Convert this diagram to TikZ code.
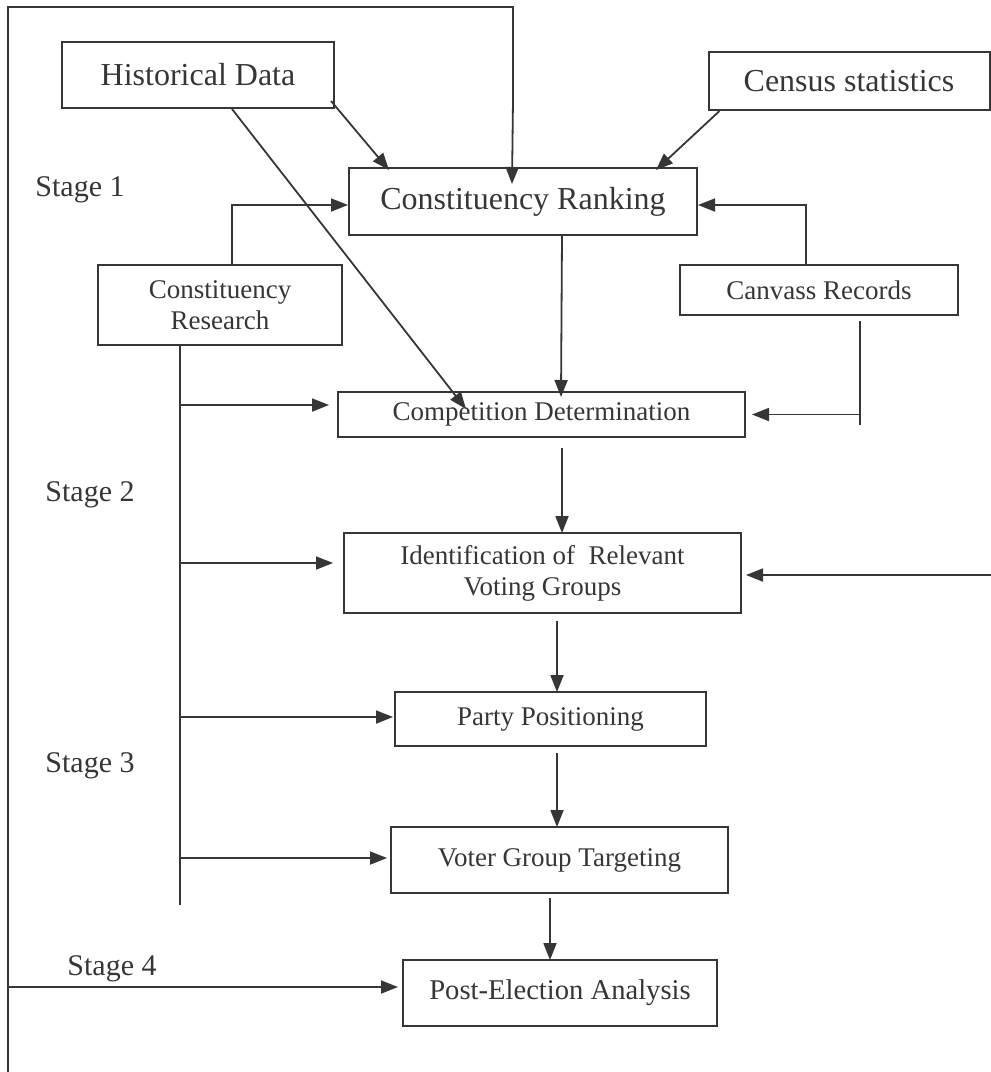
\documentclass[tikz,border=0pt]{standalone}
\usepackage{fontspec}
\setmainfont{Liberation Serif}
\usetikzlibrary{arrows.meta,calc}
\definecolor{ink}{HTML}{363636}
\tikzset{
  box/.style={draw=ink, line width=1pt, inner sep=0pt, align=center, text=ink},
  big/.style={font=\fontsize{16}{19}\selectfont},
  small/.style={font=\fontsize{13.5}{16.5}\selectfont},
  stagelbl/.style={text=ink, inner sep=0pt, font=\fontsize{15}{18}\selectfont},
  conn/.style={draw=ink, line width=0.9pt},
  arr/.style={conn, -{Triangle[length=8.5pt,width=6.5pt]}},
}
\begin{document}
\begin{tikzpicture}[x=0.5pt,y=-0.5pt]
\useasboundingbox (0,0) rectangle (991,1072);
% boxes
\node[box,big,minimum width=136pt,minimum height=33pt] (hist) at (198,75) {Historical Data};
\node[box,big,minimum width=140.5pt,minimum height=29pt] (census) at (849,81) {Census statistics};
\node[box,big,minimum width=174pt,minimum height=33.5pt] (rank) at (523,201.5) {Constituency Ranking};
\node[box,small,minimum width=122pt,minimum height=40pt] (research) at (220,305) {Constituency\\[-1pt]Research};
\node[box,small,minimum width=139pt,minimum height=25pt] (canvass) at (819,290) {Canvass Records};
\node[box,small,minimum width=203.5pt,minimum height=22.5pt] (comp) at (541.5,414.5) {Competition Determination};
\node[box,small,minimum width=198.5pt,minimum height=40pt] (ident) at (542.5,573) {Identification of~ Relevant\\[-1pt]Voting Groups};
\node[box,small,minimum width=155.5pt,minimum height=27pt] (party) at (550.5,719) {Party Positioning};
\node[box,small,minimum width=168.5pt,minimum height=33pt] (target) at (559.5,860) {Voter Group Targeting};
\node[box,small,font=\fontsize{14.3}{17}\selectfont,minimum width=157pt,minimum height=33pt] (post) at (560,993) {Post-Election Analysis};
% stage labels
\node[stagelbl] (s1) at (80,190) {Stage 1};
\node[stagelbl] (s2) at (90,495) {Stage 2};
\node[stagelbl] (s3) at (90,766) {Stage 3};
\node[stagelbl] (s4) at (112,969) {Stage 4};
% free coordinates
\coordinate (ftop) at (8,7);
\coordinate (fbot) at (8,1072);
\coordinate (fs4) at (8,987);
\coordinate (redge) at (991,575);
\coordinate (trunkTop) at ($(research.south)+(-40,0)$);
\coordinate (trunkBot) at (trunkTop |- 0,905);
\coordinate (cvTop) at ($(canvass.south)+(41,5)$);
\coordinate (cvBot) at (860,425);
% frame and top loop
\draw[conn] (fbot) -- (ftop) -| (513,100);
\draw[arr] (513,100) -- ($(rank.north west)+(164,17)$);
% stage 1 inputs
\draw[arr] ($(hist.south east)+(-4,-8)$) -- ($(rank.north west)+(41,3)$);
\draw[arr] ($(hist.south)+(34,0)$) -- ($(comp.north west)+(129,18)$);
\draw[arr] ($(census.south west)+(12,0)$) -- ($(rank.north east)+(-42,3)$);
\draw[arr] ($(research.north)+(12,0)$) |- ($(rank.west)+(0,3.5)$);
\draw[arr] ($(canvass.north)+(-13,0)$) |- ($(rank.east)+(0,3.5)$);
\draw[arr] ($(rank.south)+(39,0)$) -- ($(comp.north west)+(224,6)$);
\draw[conn] (cvTop) -- (cvBot);
\draw[arr] (cvTop |- comp.east) -- ($(comp.east)+(6,0)$);
% research trunk
\draw[conn] (trunkTop) -- (trunkBot);
\draw[arr] (trunkTop |- 0,405) -- ($(comp.west |- 0,405)+(-8,0)$);
\draw[arr] (trunkTop |- 0,563) -- ($(ident.west |- 0,563)+(-10,0)$);
\draw[arr] (trunkTop |- 0,717) -- ($(party.west |- 0,717)+(-1,0)$);
\draw[arr] (trunkTop |- 0,858) -- ($(target.west |- 0,858)+(-3,0)$);
% main chain
\draw[arr] ($(comp.south)+(20.5,10)$) -- ($(ident.north)+(19.5,1)$);
\draw[arr] ($(ident.south)+(14.5,7)$) -- ($(party.north)+(6.5,1)$);
\draw[arr] ($(party.south)+(6.5,6)$) -- ($(target.north)+(-2.5,1)$);
\draw[arr] ($(target.south)+(-9.5,4)$) -- ($(post.north)+(-10,1)$);
% right input and stage 4
\draw[arr] (redge) -- ($(ident.east |- redge)+(4,0)$);
\draw[arr] (fs4) -- ($(post.west |- fs4)+(-4,0)$);
\end{tikzpicture}
\end{document}
